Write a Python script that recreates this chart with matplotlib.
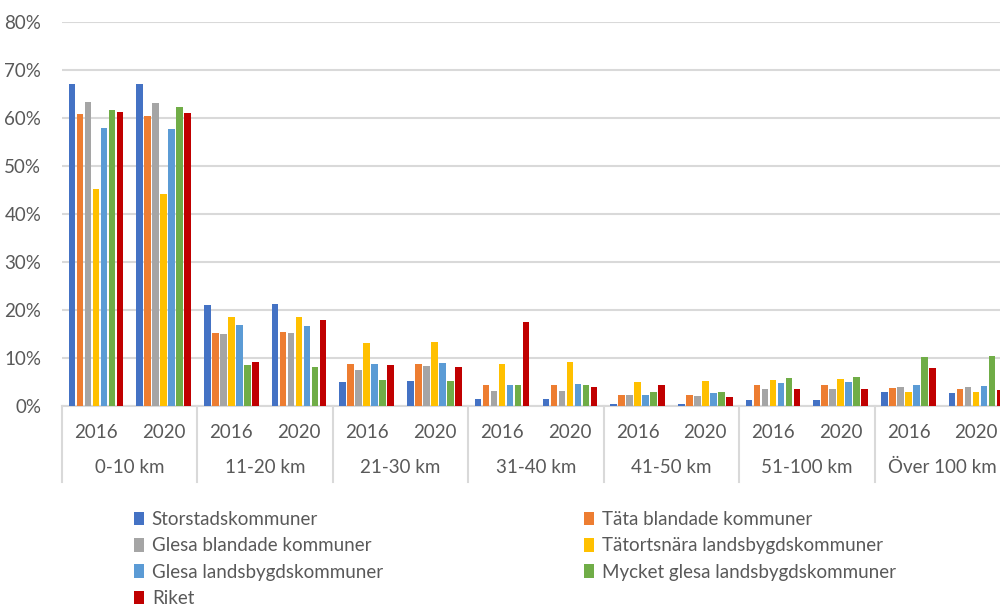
import matplotlib
matplotlib.use("Agg")
import matplotlib.pyplot as plt
import numpy as np
from matplotlib.transforms import blended_transform_factory
from matplotlib.patches import Patch

plt.rcParams['font.family'] = ['Lato', 'DejaVu Sans']

# Distance bands and survey years
groups = ["0-10 km", "11-20 km", "21-30 km", "31-40 km", "41-50 km", "51-100 km", "Över 100 km"]
years = ["2016", "2020"]

series_names = [
    "Storstadskommuner",
    "Täta blandade kommuner",
    "Glesa blandade kommuner",
    "Tätortsnära landsbygdskommuner",
    "Glesa landsbygdskommuner",
    "Mycket glesa landsbygdskommuner",
    "Riket",
]

# Share (%) per distance band, ordered 2016, 2020 within each band
storstad     = [67.1, 67.1, 21.0, 21.2, 5.1, 5.2, 1.5, 1.5, 0.4, 0.4, 1.3, 1.3, 2.9, 2.7]
tata         = [60.8, 60.5, 15.3, 15.5, 8.8, 8.8, 4.3, 4.3, 2.2, 2.2, 4.4, 4.4, 3.7, 3.5]
glesa_bl     = [63.4, 63.2, 15.1, 15.3, 7.6, 8.3, 3.1, 3.1, 2.2, 2.0, 3.5, 3.5, 3.9, 3.9]
tatortsnara  = [45.3, 44.2, 18.5, 18.5, 13.1, 13.3, 8.8, 9.2, 5.0, 5.2, 5.4, 5.6, 3.0, 3.0]
glesa_lands  = [57.9, 57.7, 16.8, 16.6, 8.8, 9.0, 4.3, 4.5, 2.4, 2.7, 4.8, 5.0, 4.4, 4.2]
mycket_glesa = [61.7, 62.3, 8.5, 8.1, 5.4, 5.2, 4.3, 4.3, 2.9, 2.9, 5.9, 6.1, 10.2, 10.4]
riket        = [61.2, 61.0, 9.2, 17.9, 8.5, 8.1, 17.6, 3.9, 4.4, 1.9, 3.5, 3.5, 7.9, 3.3]

series_values = [storstad, tata, glesa_bl, tatortsnara, glesa_lands, mycket_glesa, riket]
colors = ["#4472C4", "#ED7D31", "#A5A5A5", "#FFC000", "#5B9BD5", "#70AD47", "#C00000"]

text_color = "#595959"
grid_color = "#D9D9D9"
fs = 13.5

fig = plt.figure(figsize=(10, 6.07), dpi=100)
ax = fig.add_axes([0.062, 0.3311, 0.948, 0.6326])

n_slots = len(groups) * len(years)
x = np.arange(n_slots) + 0.5
pitch = 0.118
width = 0.097
for i, (vals, col) in enumerate(zip(series_values, colors)):
    ax.bar(x + (i - 3) * pitch, np.array(vals) / 100.0, width=width, color=col,
           edgecolor="none", zorder=3)

ax.set_xlim(0, n_slots)
ax.set_ylim(0, 0.8)
ax.set_yticks(np.arange(0, 0.81, 0.1))
ax.set_yticklabels([f"{int(round(v * 100))}%" for v in np.arange(0, 0.81, 0.1)])
ax.yaxis.grid(True, color=grid_color, linewidth=1.5, zorder=0)
ax.set_axisbelow(True)
for side in ["top", "right", "left"]:
    ax.spines[side].set_visible(False)
ax.spines["bottom"].set_color(grid_color)
ax.spines["bottom"].set_linewidth(1.5)
ax.tick_params(axis="y", length=0, labelsize=fs, labelcolor=text_color, pad=15)
ax.set_xticks([])

# Two-level category axis: years, then distance bands with separators
trans = blended_transform_factory(ax.transData, ax.transAxes)
sep_bottom = -76 / 384
for k in range(len(groups) + 1):
    ax.plot([2 * k, 2 * k], [0, sep_bottom], transform=trans, color=grid_color,
            linewidth=1.5, clip_on=False)
for j, xc in enumerate(x):
    ax.text(xc, -26 / 384, years[j % 2], transform=trans, ha="center", va="center",
            fontsize=fs, color=text_color, clip_on=False)
for k, g in enumerate(groups):
    ax.text(2 * k + 1, -61 / 384, g, transform=trans, ha="center", va="center",
            fontsize=fs, color=text_color, clip_on=False)

# Legend in two columns, filled row by row
handles = [Patch(facecolor=c, edgecolor="none") for c in colors]
leg_kw = dict(frameon=False, fontsize=fs, handlelength=0.55, handleheight=0.75,
              handletextpad=0.4, labelspacing=0.5, borderaxespad=0, borderpad=0,
              labelcolor=text_color)
left_idx = [0, 2, 4, 6]
right_idx = [1, 3, 5]
fig.legend([handles[i] for i in left_idx], [series_names[i] for i in left_idx],
           loc="upper left", bbox_to_anchor=(0.134, 1 - 511 / 607), **leg_kw)
fig.legend([handles[i] for i in right_idx], [series_names[i] for i in right_idx],
           loc="upper left", bbox_to_anchor=(0.584, 1 - 511 / 607), **leg_kw)

fig.savefig("out.png", dpi=100)
